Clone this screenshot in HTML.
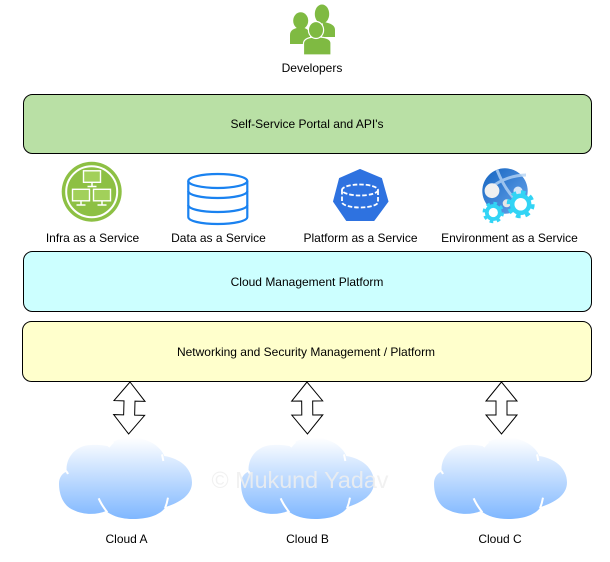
<!DOCTYPE html>
<html>
<head>
<meta charset="utf-8">
<style>
html,body{margin:0;padding:0;background:#fff;width:610px;height:562px;overflow:hidden}
svg{display:block}
text{font-family:"Liberation Sans",Arial,sans-serif;font-size:12px;fill:#000;text-anchor:middle}
</style>
</head>
<body>
<svg width="610" height="562" viewBox="0 0 610 562" xmlns="http://www.w3.org/2000/svg">
<defs>
<linearGradient id="cg" gradientUnits="userSpaceOnUse" x1="0" y1="188" x2="0" y2="432">
<stop offset="0" stop-color="#ffffff"/>
<stop offset="1" stop-color="#7fb7ff"/>
</linearGradient>
<linearGradient id="globe" x1="0" y1="0" x2="1" y2="1">
<stop offset="0" stop-color="#1464c0"/>
<stop offset="1" stop-color="#6aa6ec"/>
</linearGradient>
<g id="cloud">
<g transform="translate(50 375) scale(.3333)">
<path fill="url(#cg)" d="M50 290C46 250 75 210 125 210C145 209 162 211 176 214C190 195 215 188 245 188C295 188 332 215 343 243C390 250 426 280 426 322C426 360 390 382 347 396C330 422 290 432 250 432C215 432 188 424 168 408C140 420 100 420 70 405C40 392 27 360 27 325C27 310 35 295 50 290Z"/>
<path fill="none" stroke="#fff" stroke-width="6" d="M146 370C152 384 161 398 172 412M354 368C352 380 349 390 345 400M340 258C339 252 338 246 336 238M176 216C180 210 184 206 190 201M54 297C52 292 49 288 44 285"/>
</g>
</g>
<g id="arrow">
<path fill="#fff" stroke="#000" stroke-width="1" stroke-linejoin="miter" d="M0 0L-15.500 19H-5.500V33H-15.500L0 52L15.500 33H5.500V19H15.500Z"/>
</g>
</defs>

<!-- Developers icon -->
<g fill="#7fba42">
<path d="M323 22C330 23 335 25 335 30V37H322Z"/>
<ellipse cx="322" cy="14" rx="7.200" ry="9.500"/>
<path d="M290 44V35C290 30 294 28.500 299 27.500H303C306 28.500 309 30 310 33V44Z"/>
<ellipse cx="300.700" cy="20.700" rx="7.500" ry="8.500"/>
</g>
<g fill="#7fba42" stroke="#fff" stroke-width="1.200">
<path d="M303.500 55V43C304 39 309 37.500 313 37H320C326 37.500 331 39 331 43V55Z"/>
<ellipse cx="316" cy="30" rx="7.600" ry="8.500"/>
</g>
<text x="312" y="72">Developers</text>

<!-- Boxes -->
<rect x="23.500" y="94.500" width="568" height="59" rx="9" fill="#b9e0a5" stroke="#000"/>
<text x="307" y="128">Self-Service Portal and API's</text>
<rect x="23.500" y="251.500" width="568" height="60" rx="9" fill="#ccffff" stroke="#000"/>
<text x="307" y="286">Cloud Management Platform</text>
<rect x="22.500" y="321.500" width="569" height="60" rx="9" fill="#ffffcc" stroke="#000"/>
<text x="306" y="356">Networking and Security Management / Platform</text>

<!-- Infra icon -->
<circle cx="91.700" cy="191.700" r="30" fill="#8dc044"/>
<circle cx="91.700" cy="191.700" r="25.500" fill="none" stroke="#fff" stroke-width="2"/>
<g fill="#a2d05a" stroke="#fff" stroke-width="1.400">
<rect x="83.500" y="170.800" width="17" height="11.500"/>
<rect x="72.500" y="189.300" width="17" height="11.500"/>
<rect x="93.500" y="189.300" width="17" height="11.500"/>
</g>
<g stroke="#fff" stroke-width="1.500" fill="none">
<path d="M92 182.500V186M87.500 186.500H96.500M81 201V204.500M76.500 205H85.500M102 201V204.500M97.500 205H106.500"/>
</g>
<text x="92.500" y="242">Infra as a Service</text>

<!-- DB icon -->
<g fill="none" stroke="#1a82f0" stroke-width="2.200">
<ellipse cx="217.800" cy="181" rx="29.500" ry="7"/>
<path d="M188.300 181V217C188.300 221 201 224 217.800 224C234 224 247.300 221 247.300 217V181"/>
<path d="M188.300 191C188.300 195 201 198 217.800 198C234 198 247.300 195 247.300 191"/>
<path d="M188.300 205C188.300 209 201 212 217.800 212C234 212 247.300 209 247.300 205"/>
</g>
<text x="218.500" y="242">Data as a Service</text>

<!-- Platform icon -->
<path fill="#2e72e0" stroke="#2e72e0" stroke-width="1" stroke-linejoin="round" d="M360 169.500L381.500 178.500L388 201.500L374 220.500H346.500L333.500 201.500L339.500 178.500Z"/>
<g fill="none" stroke="#fff" stroke-width="1.800" stroke-dasharray="4.500 2">
<ellipse cx="360" cy="190" rx="18" ry="5.500"/>
<path d="M342 190V202C342 205 350 207.500 360 207.500C370 207.500 378 205 378 202V190"/>
</g>
<text x="360.500" y="242">Platform as a Service</text>

<!-- Environment icon -->
<circle cx="505" cy="191" r="22.700" fill="url(#globe)"/>
<g fill="none" stroke="#b5d4f5" stroke-width="3" opacity=".8">
<path d="M497 170C501 180 507 192 516 200"/>
<path d="M492 187C500 180 514 175 526 175"/>
</g>
<circle cx="492" cy="190.700" r="7.400" fill="#f0f0f0"/>
<circle cx="518" cy="191" r="4.500" fill="#d6e6f7"/>
<circle cx="506.700" cy="203.300" r="4" fill="#e6e6e6"/>
<circle cx="520.700" cy="204.300" r="7" fill="#fff"/>
<circle cx="493.300" cy="212.500" r="5.500" fill="#fff"/>
<g fill="none" stroke="#32d4f5">
<circle cx="520.700" cy="204.300" r="8.500" stroke-width="4.500"/>
<circle cx="520.700" cy="204.300" r="12" stroke-width="4" stroke-dasharray="4.700 4.700"/>
<circle cx="493.300" cy="212.500" r="6.500" stroke-width="3.800"/>
<circle cx="493.300" cy="212.500" r="9.200" stroke-width="3" stroke-dasharray="3.600 3.600"/>
</g>
<text x="509.500" y="242">Environment as a Service</text>

<!-- Arrows -->
<use href="#arrow" transform="translate(130 382) rotate(1.500)"/>
<use href="#arrow" transform="translate(307 382) rotate(-.5)"/>
<use href="#arrow" transform="translate(501.500 382)"/>

<!-- Clouds -->
<use href="#cloud"/>
<use href="#cloud" transform="translate(182 0)"/>
<use href="#cloud" transform="translate(375 0)"/>
<text x="126.500" y="543">Cloud A</text>
<text x="307.500" y="543">Cloud B</text>
<text x="500" y="543">Cloud C</text>

<!-- Watermark -->
<text x="300" y="488" style="font-size:23.300px;fill:#eeeeee;fill-opacity:.85">© Mukund Yadav</text>
</svg>
</body>
</html>
